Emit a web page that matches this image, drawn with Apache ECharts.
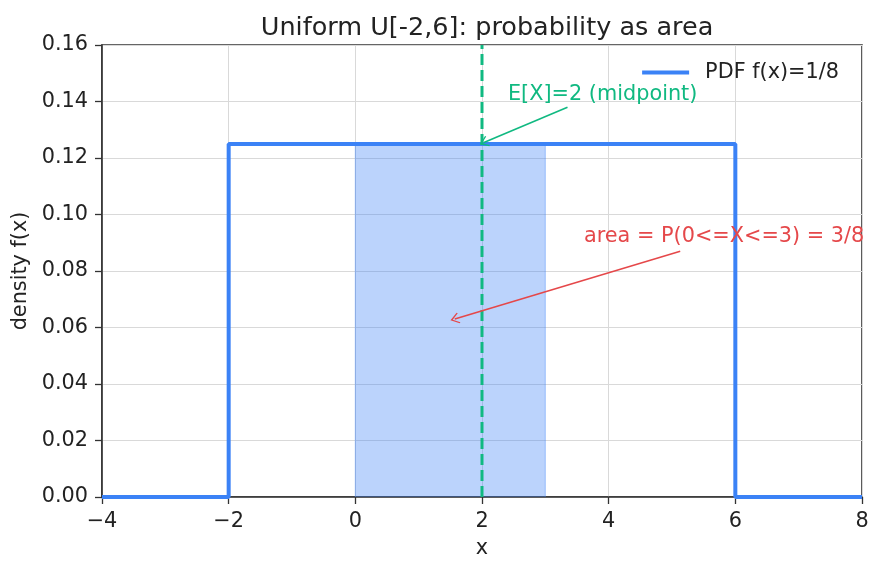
<!DOCTYPE html>
<html>
<head>
<meta charset="utf-8">
<script src="https://cdn.jsdelivr.net/npm/echarts@6/dist/echarts.min.js"></script>
<style>
  html, body { margin: 0; padding: 0; background: #fff; }
  #chart { width: 885px; height: 573px; }
</style>
</head>
<body>
<div id="chart"></div>
<script>
// data
const pdfX = [-4, -2, -2, 6, 6, 8]
const pdfY = [0, 0, 0.125, 0.125, 0, 0]
const shadeX = [0, 0, 3, 3]
const shadeY = [0, 0.125, 0.125, 0]
const meanX = [2, 2]
const meanY = [0, 0.16]
const xTicks = [-4, -2, 0, 2, 4, 6, 8]
const yTicks = [0, 0.02, 0.04, 0.06, 0.08, 0.1, 0.12, 0.14, 0.16]

// annotation texts and arrows (data coords)
const meanNote = { text: 'E[X]=2 (midpoint)', at: [2.41, 0.1423], from: [3.35, 0.138], to: [2.03, 0.1255] }
const areaNote = { text: 'area = P(0<=X<=3) = 3/8', at: [3.61, 0.092], from: [5.13, 0.087], to: [1.57, 0.063] }

const FONT = 'DejaVu Sans'
const BLUE = '#3b82f6'
const GREEN = '#10b981'
const RED = '#e5484a'
const INK = '#222'
const SPINE = '#333'

const zip = (xs, ys) => xs.map((x, i) => [x, ys[i]])
const chevron = 'path://M0,0 L10,10 L8.4,11.2 L0,3 L-8.4,11.2 L-10,10 Z'

const chart = echarts.init(document.getElementById('chart'))

const arrow = (note, color) => [
  { coord: note.from, lineStyle: { color: color, width: 1.6, type: 'solid' } },
  { coord: note.to }
]

const option = {
  animation: false,
  textStyle: { fontFamily: FONT },
  title: {
    text: 'Uniform U[-2,6]: probability as area',
    left: 482,
    top: 10,
    textAlign: 'center',
    textStyle: { fontFamily: FONT, fontSize: 25.5, fontWeight: 'normal', color: INK }
  },
  legend: {
    data: ['PDF f(x)=1/8'],
    right: 46,
    top: 62,
    padding: 0,
    icon: 'rect',
    itemWidth: 47,
    itemHeight: 4,
    textStyle: { fontFamily: FONT, fontSize: 20.8, color: INK, padding: [0, 0, 0, 11] }
  },
  grid: {
    left: 102, right: 23, top: 45, bottom: 76,
    show: true, borderColor: SPINE, borderWidth: 1.6
  },
  xAxis: {
    type: 'value',
    min: -4, max: 8, interval: 2,
    name: 'x',
    nameLocation: 'middle',
    nameGap: 41,
    nameTextStyle: { fontFamily: FONT, fontSize: 20.8, color: INK },
    axisLine: { show: true, onZero: false, lineStyle: { color: SPINE, width: 1.6 } },
    axisTick: { show: true, length: 7, lineStyle: { color: SPINE, width: 1.3 } },
    axisLabel: {
      margin: 14, fontFamily: FONT, fontSize: 20.8, color: INK,
      formatter: v => xTicks.includes(v) ? String(v).replace('-', '\u2212') : ''
    },
    splitLine: { show: true, lineStyle: { color: '#d9d9d9', width: 1 } }
  },
  yAxis: {
    type: 'value',
    min: 0, max: 0.16, interval: 0.02,
    name: 'density f(x)',
    nameLocation: 'middle',
    nameGap: 67,
    nameTextStyle: { fontFamily: FONT, fontSize: 20.8, color: INK },
    axisLine: { show: true, onZero: false, lineStyle: { color: SPINE, width: 1.6 } },
    axisTick: { show: true, length: 7, lineStyle: { color: SPINE, width: 1.3 } },
    axisLabel: {
      margin: 14, fontFamily: FONT, fontSize: 20.8, color: INK,
      formatter: v => yTicks.some(t => Math.abs(t - v) < 1e-9) ? v.toFixed(2) : ''
    },
    splitLine: { show: true, lineStyle: { color: '#d9d9d9', width: 1 } }
  },
  series: [
    {
      name: 'shade',
      type: 'line',
      data: zip(shadeX, shadeY),
      showSymbol: false,
      silent: true,
      lineStyle: { color: 'rgba(59,130,246,0.35)', width: 1.2 },
      areaStyle: { color: BLUE, opacity: 0.35, origin: 0 },
      z: 1
    },
    {
      name: 'PDF f(x)=1/8',
      type: 'line',
      data: zip(pdfX, pdfY),
      showSymbol: false,
      color: BLUE,
      lineStyle: { color: BLUE, width: 4 },
      z: 3
    },
    {
      name: 'mean',
      type: 'line',
      data: zip(meanX, meanY),
      showSymbol: false,
      lineStyle: { color: GREEN, width: 3, type: [11, 5] },
      z: 4
    },
    {
      name: 'notes',
      type: 'scatter',
      symbolSize: 0,
      silent: true,
      itemStyle: { opacity: 1 },
      data: [
        { value: meanNote.at, label: { formatter: meanNote.text, color: GREEN } },
        { value: areaNote.at, label: { formatter: areaNote.text, color: RED } }
      ],
      label: {
        show: true, position: 'right', distance: 0,
        fontFamily: FONT, fontSize: 20.8
      },
      markLine: {
        silent: true,
        animation: false,
        symbol: ['none', chevron],
        symbolSize: [11, 9],
        label: { show: false },
        data: [arrow(meanNote, GREEN), arrow(areaNote, RED)]
      },
      z: 5
    }
  ]
}

chart.setOption(option)
</script>
</body>
</html>
